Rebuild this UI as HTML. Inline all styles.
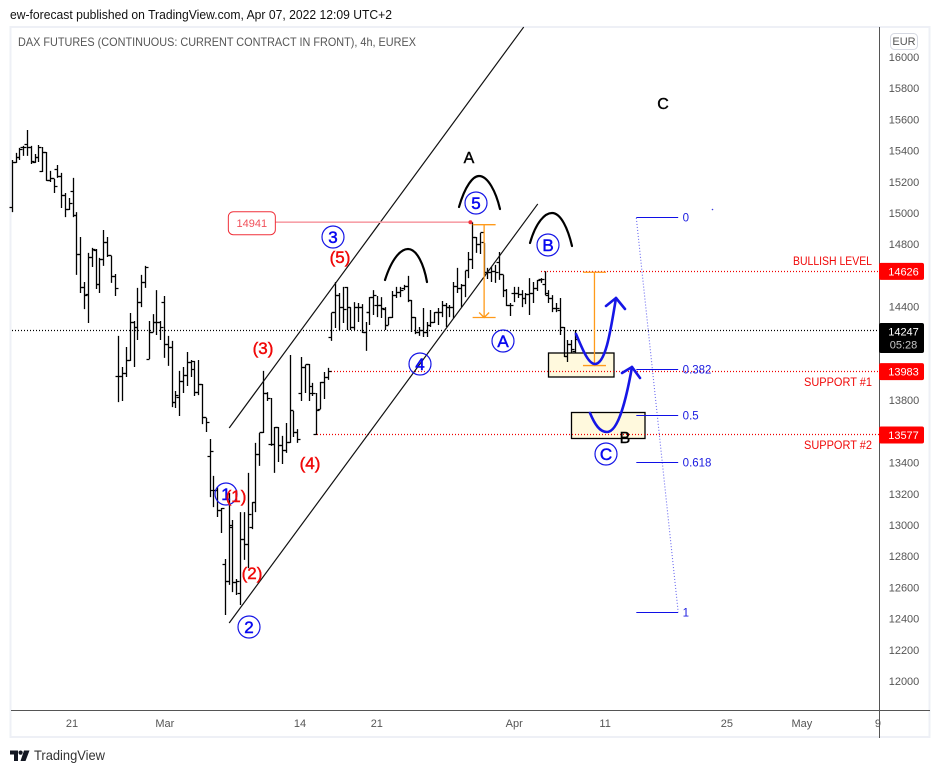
<!DOCTYPE html>
<html lang="en">
<head>
<meta charset="utf-8">
<title>DAX Futures chart</title>
<style>
html,body{margin:0;padding:0;background:#fff;}
svg{display:block;font-family:"Liberation Sans",sans-serif;}
</style>
</head>
<body>
<svg id="chart" xmlns="http://www.w3.org/2000/svg" width="939" height="773" viewBox="0 0 939 773">
  <rect x="0" y="0" width="939" height="773" fill="#ffffff"/>
  <text x="10" y="19" font-size="13" fill="#111" textLength="382" lengthAdjust="spacingAndGlyphs">ew-forecast published on TradingView.com, Apr 07, 2022 12:09 UTC+2</text>
  <rect x="10.5" y="27" width="919" height="710" fill="none" stroke="#eef0f6" stroke-width="2"/>
  <text x="18" y="46" font-size="12" fill="#555" textLength="398" lengthAdjust="spacingAndGlyphs">DAX FUTURES (CONTINUOUS: CURRENT CONTRACT IN FRONT), 4h, EUREX</text>

  <g>
    <rect x="548.5" y="353" width="65.5" height="24" fill="#fff9dd" stroke="#000" stroke-width="1.3"/>
    <rect x="571.5" y="412.5" width="73.5" height="26" fill="#fff9dd" stroke="#000" stroke-width="1.3"/>
  </g>

  <g id="levels"></g>
  <g id="bars"></g>
  <g id="overlays"></g>

  <g fill="none" stroke="#000" stroke-width="2.2" stroke-linecap="round">
    <path d="M385 280 C392 258 401 249 408 249 C417 249 424 265 427 282"/>
    <path d="M459 207 C465 186 473 176 479 176 C488 176 496 192 500 209"/>
    <path d="M530 243 C536 222 545 213 552 213 C561 213 568 229 572 246"/>
  </g>
  <g fill="none" stroke="#1616e6" stroke-width="2.6" stroke-linecap="round" stroke-linejoin="round">
    <path d="M576 334 C582 348 588 364 595 364 C606 364 611 328 616 298"/>
    <path d="M606 306 L616 298 L625 309"/>
    <path d="M590 413 C595 425 600 432 607 432 C619 432 627 395 632 367"/>
    <path d="M622 373 L632 367 L640 378"/>
  </g>

  <g fill="none" stroke="#1616e6" stroke-width="1.2">
    <circle cx="226" cy="494" r="11"/>
    <circle cx="249" cy="627" r="11"/>
    <circle cx="333" cy="237" r="11"/>
    <circle cx="420" cy="364" r="11"/>
    <circle cx="476" cy="203" r="11"/>
    <circle cx="503" cy="341" r="11"/>
    <circle cx="548" cy="245" r="11"/>
    <circle cx="606" cy="454" r="11"/>
  </g>
  <g fill="#0808f0" stroke="#0808f0" stroke-width="0.5" font-size="17" text-anchor="middle">
    <text x="226" y="500">1</text>
    <text x="249" y="633">2</text>
    <text x="333" y="243">3</text>
    <text x="420" y="370">4</text>
    <text x="476" y="209">5</text>
    <text x="503" y="347">A</text>
    <text x="548" y="251">B</text>
    <text x="606" y="460">C</text>
  </g>
  <g fill="#f00808" stroke="#f00808" stroke-width="0.45" font-size="17" text-anchor="middle">
    <text x="236" y="502">(1)</text>
    <text x="252" y="579">(2)</text>
    <text x="263" y="354">(3)</text>
    <text x="310" y="469">(4)</text>
    <text x="340" y="263">(5)</text>
  </g>
  <g fill="#000" stroke="#000" stroke-width="0.4" font-size="16" text-anchor="middle">
    <text x="469" y="163">A</text>
    <text x="625" y="443">B</text>
    <text x="663" y="109">C</text>
  </g>
  <g fill="#f00808" font-size="11.5" text-anchor="end">
    <text x="872" y="265" textLength="79" lengthAdjust="spacingAndGlyphs">BULLISH LEVEL</text>
    <text x="872" y="386" textLength="68" lengthAdjust="spacingAndGlyphs">SUPPORT #1</text>
    <text x="872" y="449" textLength="68" lengthAdjust="spacingAndGlyphs">SUPPORT #2</text>
  </g>
  <circle cx="712.5" cy="209.5" r="0.8" fill="#3a3ae0"/>

  <line x1="11" y1="710.5" x2="930" y2="710.5" stroke="#555" stroke-width="1"/>
  <g id="xaxis"></g>
  <g id="yaxis"></g>
  <line x1="879.5" y1="27" x2="879.5" y2="738" stroke="#555" stroke-width="1"/>
  <g id="badges"></g>

  <g>
    <rect x="890.5" y="33.5" width="27" height="16" rx="4" fill="#fff" stroke="#d6d9e2"/>
    <text x="904" y="45" font-size="11" fill="#555" text-anchor="middle">EUR</text>
  </g>

  <g>
    <path fill="#131722" d="M10 750.5 H18 V761 H14 V754.5 H10 Z M24 750.5 H29.5 L25.5 761 H20.5 Z"/>
    <circle cx="20.6" cy="752.6" r="2.1" fill="#131722"/>
    <text x="34" y="760" font-size="14" fill="#333" textLength="71" lengthAdjust="spacingAndGlyphs">TradingView</text>
  </g>
</svg>
<script>
// Bar data (4h OHLC, price points)
const opens = [15038,15321,15353,15417,15436,15417,15321,15353,15263,15391,15206,15218,15276,15231,15115,15025,15141,14987,14737,14520,14480,14712,14757,14539,14699,14814,14725,14590,13949,13949,13968,14052,14301,14263,14429,14552,14064,14237,14295,14301,14429,14160,14135,13788,13820,13917,13956,14039,14045,13852,13898,13686,13436,13218,13218,13096,12750,12635,12987,12629,12564,12910,12872,12987,13147,13455,13596,13846,13513,13519,13622,13507,13475,13526,13731,13590,13846,14007,14026,13885,13577,13743,13911,13943,14205,14359,14474,14397,14520,14397,14269,14397,14397,14231,14359,14461,14410,14410,14384,14282,14327,14468,14493,14513,14526,14436,14327,14237,14244,14231,14282,14301,14359,14359,14410,14397,14397,14526,14513,14533,14629,14705,14846,14801,14808,14616,14616,14622,14680,14603,14506,14410,14487,14487,14480,14455,14480,14487,14513,14571,14539,14474,14455,14391,14378,14263,14077,14154,14109];
const highs = [15340,15385,15417,15430,15532,15430,15378,15436,15423,15391,15270,15218,15308,15257,15128,15096,15225,15006,14846,14558,14744,14776,14769,14712,14891,14846,14725,14609,14212,14013,14141,14359,14308,14520,14603,14661,14308,14352,14506,14308,14468,14212,14180,13859,13988,14013,14109,14058,14052,14058,13904,13686,13551,13315,13244,13109,12782,13205,13032,12654,13083,13083,13334,13147,13526,13590,13988,13852,13814,13628,13628,13571,13654,14090,13731,13615,14077,14026,14032,13911,13846,13917,13981,14007,14359,14558,14487,14526,14526,14397,14429,14423,14416,14301,14461,14506,14468,14461,14397,14333,14500,14526,14526,14539,14597,14442,14333,14269,14391,14301,14378,14365,14391,14436,14423,14410,14558,14648,14545,14629,14750,14941,14846,14872,14808,14648,14654,14667,14750,14603,14513,14423,14526,14526,14506,14487,14583,14558,14571,14583,14626,14506,14474,14423,14455,14269,14186,14186,14250];
const lows = [15006,15321,15340,15366,15366,15314,15321,15327,15263,15206,15199,15128,15225,15032,14974,15019,14974,14603,14487,14384,14295,14654,14513,14487,14661,14718,14552,14468,13788,13795,13949,14052,14013,14186,14397,14520,14064,14237,14218,14186,14071,14020,13756,13750,13699,13846,13891,13949,13827,13833,13647,13596,13179,13115,13051,12949,12423,12616,12570,12551,12487,12776,12724,12974,13083,13379,13590,13795,13507,13334,13404,13391,13462,13526,13564,13526,13795,13846,13795,13827,13577,13743,13808,13930,14180,14263,14250,14295,14250,14250,14250,14301,14231,14116,14282,14346,14333,14327,14250,14282,14327,14455,14461,14506,14429,14237,14224,14212,14205,14205,14269,14295,14282,14333,14269,14333,14327,14487,14397,14461,14583,14641,14744,14737,14590,14577,14558,14552,14571,14461,14403,14340,14429,14455,14397,14416,14346,14423,14500,14552,14474,14423,14365,14365,14218,14077,14045,14103,14103];
const closes = [15321,15353,15410,15423,15417,15327,15353,15417,15391,15206,15218,15167,15231,15115,15025,15064,14987,14737,14520,14468,14712,14763,14539,14705,14814,14725,14590,14513,13949,13968,14052,14301,14263,14429,14552,14648,14231,14295,14301,14269,14160,14135,13788,13833,13917,13956,14039,14000,13852,13898,13686,13660,13468,13218,13096,13103,12635,12994,12629,12641,12910,12872,13070,13147,13455,13590,13846,13808,13519,13622,13507,13475,13526,13731,13590,13551,14007,14026,13846,13840,13737,13911,13943,13981,14359,14474,14397,14384,14397,14269,14397,14397,14237,14359,14461,14474,14410,14391,14282,14327,14468,14493,14506,14526,14436,14327,14237,14244,14231,14282,14301,14359,14359,14410,14397,14397,14526,14513,14533,14629,14705,14846,14801,14872,14616,14616,14622,14616,14603,14506,14410,14410,14487,14480,14455,14480,14487,14513,14565,14571,14487,14455,14391,14391,14263,14077,14154,14122,14186];

// Axis labels
const priceTicks = [16000,15800,15600,15400,15200,15000,14800,14400,13800,13400,13200,13000,12800,12600,12400,12200,12000];
const timeLabels = ["21","Mar","14","21","Apr","11","25","May","9"];
const timeLabelBars = [15.7,40.1,75.6,95.8,131.9,155.8,187.8,207.5,227.5];

// Levels
const lastPrice = 14247;
const countdown = "05:28";
const keyLevels = [14626,13983,13577];
const keyLevelStartBars = [139,83,80];
const peakPrice = 14941;
const peakStartBar = 69;
const peakBar = 120.4;

// Fibonacci tool
const fibRatios = ["0","0.382","0.5","0.618","1"];
const fibPrices = [14968,13995,13700,13400,12442];
const fibStartBar = 164;
const fibEndBar = 175;

// Channel lines: time in bars, price in points
const channelUpperBars = [57,134.4];
const channelUpperPrices = [13622,16192];
const channelLowerBars = [57,138.1];
const channelLowerPrices = [12372,15058];

// Orange measured moves
const measureBars = [124,153];
const measureFromPrices = [14925,14620];
const measureToPrices = [14330,14022];

// Scales
const PRICE_TOP = 16000, Y_TOP = 57, PX_PER_POINT = 0.156;
const BAR_ZERO = 12.3, BAR_STEP = 3.805;
function y(price){ return Y_TOP + (PRICE_TOP - price) * PX_PER_POINT; }
function x(bar){ return BAR_ZERO + BAR_STEP * bar; }
function crisp(v){ return Math.round(v - 0.5) + 0.5; }

const NS = "http://www.w3.org/2000/svg";
function make(tag, attrs, parent){
  const el = document.createElementNS(NS, tag);
  for (const k in attrs) el.setAttribute(k, attrs[k]);
  parent.appendChild(el);
  return el;
}

// Price bars
const barsG = document.getElementById("bars");
const barCount = Math.min(opens.length, highs.length, lows.length, closes.length);
for (let i = 0; i < barCount; i++) {
  const cx = crisp(x(i));
  const d = "M" + cx + " " + y(highs[i]).toFixed(1) + "V" + y(lows[i]).toFixed(1) +
    "M" + (cx - 3) + " " + crisp(y(opens[i])) + "H" + cx +
    "M" + cx + " " + crisp(y(closes[i])) + "H" + (cx + 3);
  const bar = make("path", {d: d, fill: "none", stroke: "#000", "stroke-width": 1.3}, barsG);
  
  
}

// Horizontal levels
const levelsG = document.getElementById("levels");
const lastLine = make("line", {x1: 12, x2: 879, y1: crisp(y(lastPrice)), y2: crisp(y(lastPrice)), stroke: "#000", "stroke-width": 1.2, "stroke-dasharray": "1 2"}, levelsG);


keyLevels.forEach(function(level, i){
  const ln = make("line", {x1: Math.round(x(keyLevelStartBars[i])), x2: 879, y1: crisp(y(level)), y2: crisp(y(level)), stroke: "#f00000", "stroke-width": 1.2, "stroke-dasharray": "1 2"}, levelsG);
  
  
});

// Overlays
const over = document.getElementById("overlays");
const upper = make("line", {x1: x(channelUpperBars[0]), y1: y(channelUpperPrices[0]), x2: x(channelUpperBars[1]), y2: y(channelUpperPrices[1]), stroke: "#111", "stroke-width": 1.2}, over);


const lower = make("line", {x1: x(channelLowerBars[0]), y1: y(channelLowerPrices[0]), x2: x(channelLowerBars[1]), y2: y(channelLowerPrices[1]), stroke: "#111", "stroke-width": 1.2}, over);



// Peak callout
const peakLine = make("line", {x1: x(peakStartBar), x2: x(peakBar), y1: y(peakPrice), y2: y(peakPrice), stroke: "#f7a0a8", "stroke-width": 1.6}, over);


const peakDot = make("circle", {cx: x(peakBar), cy: y(peakPrice), r: 2, fill: "#f0303a"}, over);


const peakBox = make("rect", {x: x(peakStartBar) - 46.5, y: y(peakPrice) - 10.5, width: 47, height: 23, rx: 5, fill: "#fff", stroke: "#f0303a", "stroke-width": 1}, over);


const peakText = make("text", {x: x(peakStartBar) - 23, y: y(peakPrice) + 5, "font-size": 11, fill: "#f0505a", "text-anchor": "middle"}, over);


peakText.textContent = String(peakPrice);

// Orange measured moves
measureBars.forEach(function(bar, i){
  const cx = x(bar), y0 = y(measureFromPrices[i]), y1 = y(measureToPrices[i]);
  const d = "M" + (cx - 11.5) + " " + y0 + "H" + (cx + 11.5) + "M" + cx + " " + y0 + "V" + y1 +
    "M" + (cx - 11.5) + " " + y1 + "H" + (cx + 11.5) + "M" + (cx - 5) + " " + (y1 - 5) + "L" + cx + " " + y1 + "L" + (cx + 5) + " " + (y1 - 5);
  const m = make("path", {d: d, fill: "none", stroke: "#ff9a1a", "stroke-width": 1.3}, over);
  
  
});

// Fibonacci levels
const fibDiag = make("line", {x1: x(fibStartBar), y1: y(fibPrices[0]), x2: x(fibEndBar), y2: y(fibPrices[fibPrices.length - 1]), stroke: "#6a6af0", "stroke-width": 1.1, "stroke-dasharray": "1 2"}, over);


fibRatios.forEach(function(ratio, i){
  const ly = crisp(y(fibPrices[i]));
  const ln = make("line", {x1: x(fibStartBar), x2: x(fibEndBar), y1: ly, y2: ly, stroke: "#1010e6", "stroke-width": 1.1}, over);
  
  
  const tx = make("text", {x: x(fibEndBar) + 4.5, y: ly + 4, "font-size": 11.5, fill: "#1a1ae0"}, over);
  
  
  tx.textContent = ratio;
});

// Price axis
const yAxisG = document.getElementById("yaxis");
priceTicks.forEach(function(tick){
  const t = make("text", {x: 904, y: y(tick) + 4, "font-size": 11, fill: "#555", "text-anchor": "middle"}, yAxisG);
  
  
  t.textContent = String(tick);
});

// Time axis
const xAxisG = document.getElementById("xaxis");
timeLabels.forEach(function(label, i){
  const t = make("text", {x: x(timeLabelBars[i]), y: 727, "font-size": 11, fill: "#555", "text-anchor": "middle"}, xAxisG);
  
  
  t.textContent = label;
});

// Price badges
const badgesG = document.getElementById("badges");
keyLevels.forEach(function(level){
  const by = y(level);
  const r = make("rect", {x: 879, y: by - 8.5, width: 45, height: 17, rx: 2, fill: "#ff0000"}, badgesG);
  
  
  const t = make("text", {x: 903.5, y: by + 4, "font-size": 11, fill: "#fff", "text-anchor": "middle"}, badgesG);
  
  
  t.textContent = String(level);
});
const lastY = y(lastPrice);
const lastBadge = make("rect", {x: 879, y: lastY - 7.5, width: 45, height: 30, rx: 2, fill: "#000"}, badgesG);


const lastLabel = make("text", {x: 903.5, y: lastY + 5, "font-size": 11, fill: "#fff", "text-anchor": "middle"}, badgesG);


lastLabel.textContent = String(lastPrice);
const countdownLabel = make("text", {x: 903.5, y: lastY + 18, "font-size": 11, fill: "#c8c8c8", "text-anchor": "middle"}, badgesG);


countdownLabel.textContent = countdown;
</script>
</body>
</html>
